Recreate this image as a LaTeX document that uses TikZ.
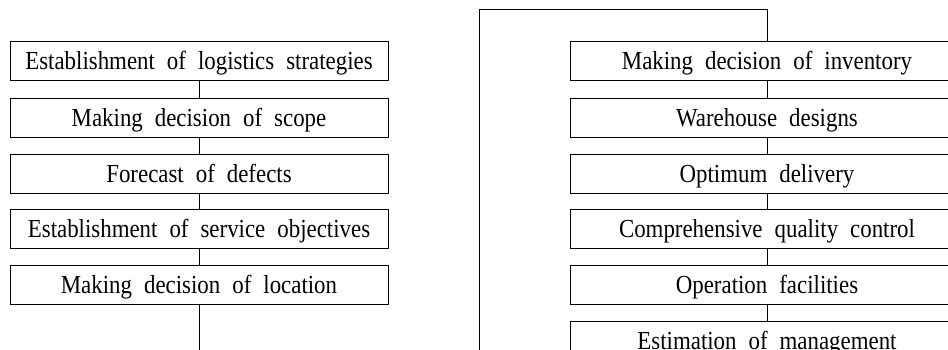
\documentclass[tikz,border=0pt]{standalone}
\usepackage{fontspec}
\setmainfont[FakeStretch=0.88]{Liberation Serif}
\newcommand\boxfont{\fontsize{26}{28}\selectfont}
\begin{document}
\begin{tikzpicture}[x=1pt,y=-1pt,
  stepbox/.style={draw,line width=0.8pt,minimum height=39pt,inner sep=0pt,
    text height=22pt,text depth=4pt,
    font=\boxfont,execute at begin node={\spaceskip=12pt\relax}},
  lbox/.style={stepbox,minimum width=378pt},
  rbox/.style={stepbox,minimum width=394pt},
  conn/.style={line width=0.8pt}]
\clip (0,0) rectangle (948,350);
\useasboundingbox (0,0) rectangle (948,350);
\node[lbox] (L1) at (199,60.5) {Establishment of logistics strategies};
\node[lbox] (L2) at (199,117.5) {Making decision of scope};
\node[lbox] (L3) at (199,173.5) {Forecast of defects};
\node[lbox] (L4) at (199,228.5) {Establishment of service objectives};
\node[lbox] (L5) at (199,284.5) {Making decision of location};
\node[rbox] (R1) at (767,60.5) {Making decision of inventory};
\node[rbox] (R2) at (767,117.5) {Warehouse designs};
\node[rbox] (R3) at (767,173.5) {Optimum delivery};
\node[rbox] (R4) at (767,228.5) {Comprehensive quality control};
\node[rbox] (R5) at (767,284.5) {Operation facilities};
\node[rbox] (R6) at (767,340.5) {Estimation of management};
\coordinate (B1) at (199,370);
\coordinate (B2) at (479,370);
\coordinate (T1) at (479,9.5);
\coordinate (T2) at (767,9.5);
\draw[conn] (L1) -- (L2);
\draw[conn] (L2) -- (L3);
\draw[conn] (L3) -- (L4);
\draw[conn] (L4) -- (L5);
\draw[conn] (L5.south) -- (B1) -- (B2) -- (T1) -- (T2) -- (R1.north);
\draw[conn] (R1) -- (R2);
\draw[conn] (R2) -- (R3);
\draw[conn] (R3) -- (R4);
\draw[conn] (R4) -- (R5);
\draw[conn] (R5) -- (R6);
\end{tikzpicture}
\end{document}
